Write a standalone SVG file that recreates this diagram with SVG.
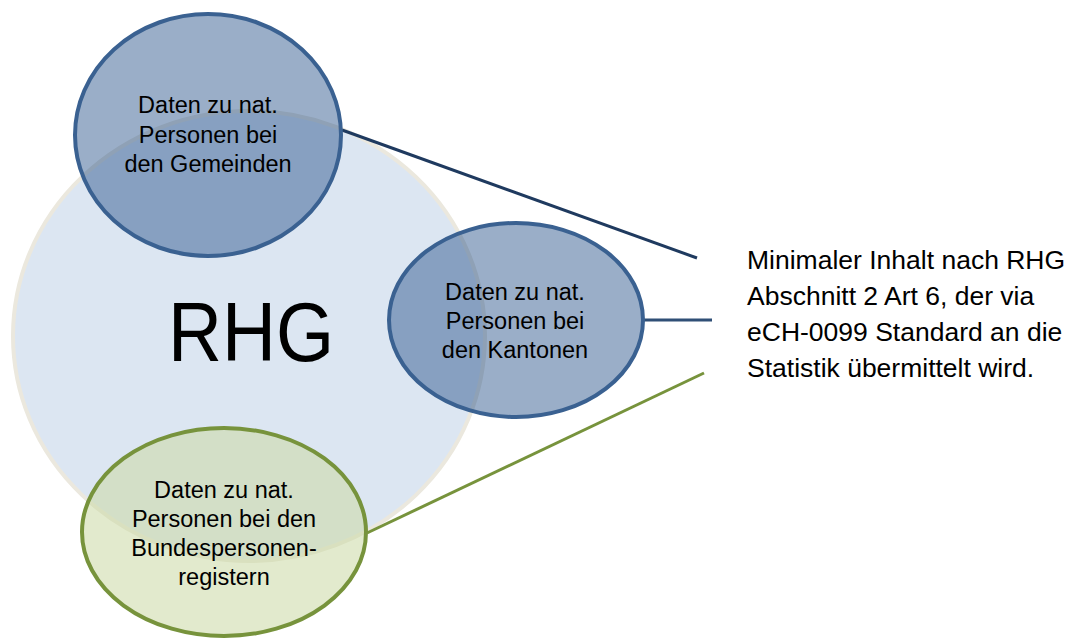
<svg xmlns="http://www.w3.org/2000/svg" width="1070" height="638" viewBox="0 0 1070 638">
<style>
.lbl{font-family:"Liberation Sans",Arial,sans-serif;font-size:23.5px;fill:#000;text-anchor:middle}
.note{font-family:"Liberation Sans",Arial,sans-serif;font-size:26.5px;fill:#000}
.blue{fill:#1f4b85;fill-opacity:0.45;stroke:#3a6191;stroke-width:4}
.green{fill:#ccdaa7;fill-opacity:0.57;stroke:#77933c;stroke-width:4}
</style>
<rect width="1070" height="638" fill="#ffffff"/>
<g id="rhg">
<ellipse cx="249" cy="336" rx="236" ry="225" fill="#dce6f2" stroke="#ebe8de" stroke-width="4"/>
<text x="251" y="361" font-family="Liberation Sans,Arial,sans-serif" font-size="84" text-anchor="middle" textLength="166" lengthAdjust="spacingAndGlyphs">RHG</text>
</g>
<g id="connectors" fill="none" stroke-width="3">
<line x1="342" y1="130" x2="697" y2="258" stroke="#1f3a5f"/>
<line x1="643" y1="320" x2="712" y2="320" stroke="#2f4f76"/>
<line x1="367" y1="533" x2="704" y2="373" stroke="#77933c"/>
</g>
<g id="gemeinden">
<ellipse class="blue" cx="208" cy="135" rx="133" ry="121"/>
<text class="lbl"><tspan x="208" y="113">Daten zu nat.</tspan><tspan x="208" y="142.5">Personen bei</tspan><tspan x="208" y="172">den Gemeinden</tspan></text>
</g>
<g id="kantonen">
<ellipse class="blue" cx="516" cy="320" rx="127" ry="97"/>
<text class="lbl"><tspan x="515" y="300">Daten zu nat.</tspan><tspan x="515" y="329">Personen bei</tspan><tspan x="515" y="358">den Kantonen</tspan></text>
</g>
<g id="bund">
<ellipse class="green" cx="224" cy="532" rx="142" ry="104"/>
<text class="lbl"><tspan x="224" y="498">Daten zu nat.</tspan><tspan x="224" y="527">Personen bei den</tspan><tspan x="224" y="556">Bundespersonen-</tspan><tspan x="224" y="585">registern</tspan></text>
</g>
<g id="note">
<text class="note"><tspan x="747" y="269">Minimaler Inhalt nach RHG</tspan><tspan x="747" y="305">Abschnitt 2 Art 6, der via</tspan><tspan x="747" y="341">eCH-0099 Standard an die</tspan><tspan x="747" y="377">Statistik übermittelt wird.</tspan></text>
</g>
</svg>
